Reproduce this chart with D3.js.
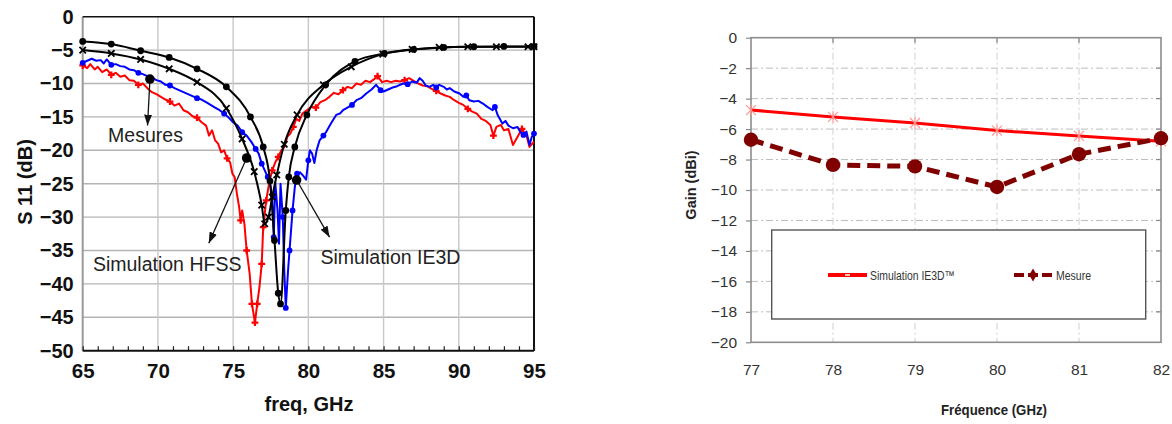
<!DOCTYPE html>
<html><head><meta charset="utf-8">
<script src="https://cdn.jsdelivr.net/npm/d3@7"></script>
<style>body{margin:0;background:#fff}svg{display:block}</style>
</head><body>
<script>
// ================= DATA =================
// Left chart: S11 (dB) vs freq (GHz)
const leftXTicks = [65,70,75,80,85,90,95];
const leftYTicks = [0,-5,-10,-15,-20,-25,-30,-35,-40,-45,-50];
const measRed = [[65.0,-7.3],[65.3,-7.7],[65.5,-7.1],[65.8,-7.9],[66.0,-7.5],[66.3,-8.3],[66.6,-7.9],[66.9,-8.7],[67.2,-8.4],[67.5,-9.0],[67.8,-8.8],[68.1,-9.5],[68.4,-9.6],[68.7,-10.2],[69.0,-10.0],[69.3,-10.7],[69.6,-11.3],[69.9,-11.6],[70.2,-12.0],[70.5,-12.4],[70.8,-12.7],[71.1,-13.3],[71.4,-13.0],[71.7,-14.0],[72.0,-14.3],[72.3,-14.9],[72.6,-15.1],[72.9,-15.8],[73.2,-16.3],[73.4,-17.8],[73.6,-17.0],[73.8,-18.5],[74.0,-19.0],[74.2,-20.3],[74.4,-20.0],[74.6,-21.2],[74.8,-21.8],[74.95,-23.5],[75.1,-24.0],[75.25,-26.5],[75.4,-28.5],[75.5,-30.5],[75.6,-29.0],[75.75,-31.0],[75.9,-35.0],[76.1,-38.5],[76.25,-43.0],[76.45,-45.8],[76.6,-43.0],[76.75,-40.5],[76.9,-37.0],[77.0,-31.5],[77.2,-27.5],[77.4,-24.8],[77.6,-23.0],[77.8,-21.8],[78.0,-21.0],[78.2,-20.0],[78.4,-19.5],[78.6,-18.0],[78.8,-17.5],[79.0,-16.5],[79.2,-15.3],[79.4,-15.6],[79.6,-14.5],[79.9,-14.0],[80.2,-13.5],[80.5,-13.6],[80.8,-12.8],[81.1,-12.5],[81.4,-12.0],[81.7,-11.4],[82.0,-11.6],[82.3,-11.0],[82.6,-10.5],[82.9,-10.7],[83.2,-10.0],[83.5,-10.2],[83.8,-9.6],[84.1,-9.8],[84.4,-9.3],[84.6,-8.9],[84.9,-9.8],[85.2,-9.6],[85.5,-9.8],[85.8,-9.6],[86.1,-9.7],[86.4,-9.5],[86.7,-9.2],[87.0,-9.6],[87.3,-10.0],[87.6,-10.3],[87.9,-10.4],[88.2,-10.8],[88.5,-11.1],[88.8,-11.5],[89.1,-11.8],[89.4,-12.0],[89.7,-12.5],[90.0,-12.9],[90.3,-13.2],[90.6,-13.8],[90.9,-14.2],[91.2,-14.5],[91.5,-15.3],[91.8,-15.6],[92.1,-16.2],[92.3,-17.8],[92.5,-16.5],[92.8,-16.2],[93.0,-17.0],[93.3,-16.8],[93.6,-19.2],[93.9,-18.0],[94.2,-16.8],[94.5,-17.8],[94.7,-19.5],[95.0,-18.7]];
const measBlue = [[65.0,-6.9],[65.3,-6.6],[65.6,-6.3],[65.9,-6.6],[66.2,-6.5],[66.4,-7.0],[66.6,-6.4],[66.9,-7.2],[67.2,-7.1],[67.5,-7.4],[67.8,-7.5],[68.1,-7.9],[68.4,-8.0],[68.7,-8.4],[69.0,-8.6],[69.3,-8.9],[69.6,-9.1],[69.9,-9.5],[70.2,-9.7],[70.5,-10.2],[70.8,-10.3],[71.1,-10.7],[71.4,-11.0],[71.7,-11.3],[72.0,-11.6],[72.3,-11.9],[72.6,-12.2],[72.9,-12.4],[73.2,-12.8],[73.5,-13.2],[73.8,-13.6],[74.1,-14.0],[74.4,-14.5],[74.7,-15.1],[75.0,-15.8],[75.3,-16.3],[75.6,-17.3],[75.9,-17.8],[76.2,-18.7],[76.5,-19.8],[76.7,-20.5],[76.9,-22.0],[77.1,-23.0],[77.3,-24.0],[77.5,-25.5],[77.6,-27.5],[77.7,-33.0],[77.8,-24.8],[77.95,-29.0],[78.05,-34.0],[78.15,-25.0],[78.3,-30.0],[78.4,-38.0],[78.5,-43.6],[78.65,-38.0],[78.75,-35.0],[78.95,-29.0],[79.1,-25.5],[79.25,-23.5],[79.45,-23.3],[79.65,-23.8],[79.85,-24.4],[80.0,-21.5],[80.1,-20.0],[80.25,-20.5],[80.4,-21.9],[80.55,-20.0],[80.75,-18.5],[81.0,-17.8],[81.2,-17.2],[81.5,-16.0],[81.85,-14.7],[82.1,-14.5],[82.3,-14.0],[82.6,-13.6],[82.9,-13.2],[83.2,-12.5],[83.5,-12.2],[83.85,-11.5],[84.2,-10.9],[84.5,-10.2],[84.8,-11.0],[85.0,-11.2],[85.3,-10.9],[85.6,-10.6],[85.9,-10.4],[86.3,-10.0],[86.6,-10.1],[86.9,-9.7],[87.2,-9.9],[87.4,-9.2],[87.6,-9.6],[87.8,-10.3],[88.05,-10.5],[88.3,-10.2],[88.5,-10.6],[88.7,-10.2],[89.0,-10.5],[89.2,-10.9],[89.4,-10.7],[89.7,-11.2],[90.05,-11.5],[90.3,-12.0],[90.5,-11.8],[90.7,-12.5],[91.0,-12.7],[91.3,-12.6],[91.6,-13.0],[91.9,-13.5],[92.25,-14.0],[92.4,-13.5],[92.6,-14.8],[92.9,-16.0],[93.1,-15.6],[93.3,-16.3],[93.6,-16.7],[93.9,-16.5],[94.1,-17.3],[94.3,-17.7],[94.5,-17.2],[94.7,-19.2],[94.85,-18.0],[95.0,-17.5]];
const simCross = [[65.0,-5.0],[66.9,-5.5],[68.85,-6.4],[70.75,-7.8],[72.6,-9.8],[74.55,-13.7],[75.6,-18.3],[76.4,-23.2],[76.9,-28.2],[77.1,-31.0],[77.35,-30.0],[77.6,-27.0],[77.9,-23.7],[78.4,-19.1],[79.25,-14.7],[81.0,-10.2],[82.85,-7.5],[84.95,-5.6],[86.9,-4.9],[88.7,-4.6],[90.6,-4.5],[92.5,-4.5],[94.6,-4.5],[95.0,-4.5]];
const simDot = [[65.0,-3.7],[66.9,-4.1],[68.85,-5.1],[70.75,-6.1],[72.6,-7.8],[74.55,-10.5],[76.15,-15.0],[77.0,-19.5],[77.45,-24.6],[77.75,-33.5],[78.0,-41.4],[78.15,-43.0],[78.5,-29.0],[78.7,-24.0],[79.1,-19.5],[79.9,-14.7],[81.15,-10.2],[83.1,-6.7],[85.05,-5.5],[87.0,-4.9],[89.0,-4.6],[91.0,-4.5],[93.0,-4.45],[95.0,-4.45]];
const redMarkerFreqs = [65,66.9,68.7,70.8,72.6,74.6,75.5,75.9,76.25,76.45,76.6,76.9,77.0,77.2,77.6,78.0,79.0,80.5,82.3,84.6,86.4,88.5,90.6,92.3,94.2];
const blueMarkerFreqs = [65,66.9,68.7,70.8,72.6,74.4,75.6,76.5,76.9,77.3,77.7,78.3,78.5,78.75,78.95,79.25,80.0,81.0,82.9,84.8,86.6,88.5,90.5,92.4,94.3,95.0];

// Right chart: Gain (dBi) vs Fréquence (GHz)
const rightXTicks = [77,78,79,80,81,82];
const rightYTicks = [0,-2,-4,-6,-8,-10,-12,-14,-16,-18,-20];
const gainFreq = [77,78,79,80,81,82];
const gainIE3D = [-4.75,-5.2,-5.6,-6.1,-6.45,-6.8];
const gainMesure = [-6.7,-8.35,-8.45,-9.8,-7.65,-6.6];

// ================= DRAW =================
const W = 1172, H = 424;
const FONT = "'Liberation Sans', Arial, Helvetica, sans-serif";
const svg = d3.select("body").append("svg").attr("width", W).attr("height", H)
  .attr("font-family", FONT);

const defs = svg.append("defs");
defs.append("marker").attr("id","arrow").attr("markerUnits","userSpaceOnUse")
  .attr("markerWidth",11).attr("markerHeight",8).attr("refX",11).attr("refY",4)
  .attr("orient","auto")
  .append("path").attr("d","M0,0L11,4L0,8Z").attr("fill","#111");

// ---------- LEFT CHART ----------
const xL = d3.scaleLinear().domain([65,95]).range([82.7,534]);
const yL = d3.scaleLinear().domain([-50,0]).range([350.7,16.7]);
const gL = svg.append("g");

// grid
gL.selectAll("line.hg").data(leftYTicks.filter(v => v < 0 && v > -50)).join("line")
  .attr("x1", xL(65)).attr("x2", xL(95)).attr("y1", d => yL(d)).attr("y2", d => yL(d))
  .attr("stroke", "#b4b4b4").attr("stroke-width", 1.4);
gL.selectAll("line.vg").data(leftXTicks.filter(v => v > 65 && v < 95)).join("line")
  .attr("x1", d => xL(d)).attr("x2", d => xL(d)).attr("y1", yL(0)).attr("y2", yL(-50))
  .attr("stroke", "#c8c8c8").attr("stroke-width", 1.4);
// left axis line (gray)
gL.append("line").attr("x1", xL(65)).attr("x2", xL(65)).attr("y1", yL(0)).attr("y2", yL(-50))
  .attr("stroke", "#9a9a9a").attr("stroke-width", 2);
// top & right frame
gL.append("line").attr("x1", xL(65)).attr("x2", xL(95)).attr("y1", yL(0)).attr("y2", yL(0))
  .attr("stroke", "#111").attr("stroke-width", 1.5);
gL.append("line").attr("x1", xL(95)).attr("x2", xL(95)).attr("y1", yL(0)).attr("y2", yL(-50))
  .attr("stroke", "#111").attr("stroke-width", 2);
// minor ticks on bottom axis
const gMinor = gL.append("g").attr("transform", `translate(0,${yL(-50)})`)
  .call(d3.axisBottom(xL).tickValues(d3.range(65, 96, 1)).tickSize(-4.5).tickFormat(""));
gMinor.select(".domain").remove();
gMinor.selectAll("line").attr("stroke", "#222").attr("stroke-width", 1.2);
// bottom axis line
gL.append("line").attr("x1", xL(65)).attr("x2", xL(95)).attr("y1", yL(-50)).attr("y2", yL(-50))
  .attr("stroke", "#111").attr("stroke-width", 2);

// tick labels via axes
const gYL = gL.append("g").attr("transform", `translate(${xL(65)},0)`)
  .call(d3.axisLeft(yL).tickValues(leftYTicks).tickSize(0).tickPadding(9));
gYL.select(".domain").remove();
gYL.attr("font-size", 20).attr("font-family", FONT).attr("font-weight", "bold");
gYL.selectAll("text").attr("fill", "#111");

const gXL = gL.append("g").attr("transform", `translate(0,${yL(-50)})`)
  .call(d3.axisBottom(xL).tickValues(leftXTicks).tickSize(0).tickPadding(13));
gXL.select(".domain").remove();
gXL.attr("font-size", 20.5).attr("font-family", FONT).attr("font-weight", "bold");
gXL.selectAll("text").attr("fill", "#111");

// axis titles
gL.append("text").attr("x", 309).attr("y", 411).attr("text-anchor", "middle")
  .attr("font-size", 20).attr("font-weight", "bold").attr("fill", "#111").text("freq, GHz");
gL.append("text").attr("transform", "translate(32,182) rotate(-90)").attr("text-anchor", "middle")
  .attr("font-size", 20).attr("font-weight", "bold").attr("fill", "#111").text("S 11 (dB)");

// curves
const lineL = d3.line().x(d => xL(d[0])).y(d => yL(d[1]));
const lineSmooth = d3.line().x(d => xL(d[0])).y(d => yL(d[1])).curve(d3.curveMonotoneX);
const nearest = (arr, f) => arr.reduce((a, b) => Math.abs(b[0] - f) < Math.abs(a[0] - f) ? b : a);

gL.append("path").datum(measRed).attr("d", lineL).attr("fill", "none")
  .attr("stroke", "#ff0000").attr("stroke-width", 2).attr("stroke-linejoin", "round");
gL.selectAll("path.rm").data(redMarkerFreqs.map(f => nearest(measRed, f))).join("path")
  .attr("transform", d => `translate(${xL(d[0])},${yL(d[1])})`)
  .attr("d", d3.symbol().type(d3.symbolCross).size(26)).attr("fill", "#ff0000");

gL.append("path").datum(measBlue).attr("d", lineL).attr("fill", "none")
  .attr("stroke", "#0000ff").attr("stroke-width", 2).attr("stroke-linejoin", "round");
gL.selectAll("circle.bm").data(blueMarkerFreqs.map(f => nearest(measBlue, f))).join("circle")
  .attr("cx", d => xL(d[0])).attr("cy", d => yL(d[1])).attr("r", 2.9).attr("fill", "#0000ff");

gL.append("path").datum(simCross).attr("d", lineSmooth).attr("fill", "none")
  .attr("stroke", "#000").attr("stroke-width", 2);
gL.selectAll("path.xm").data(simCross).join("path")
  .attr("transform", d => `translate(${xL(d[0])},${yL(d[1])})`)
  .attr("d", "M-3.2,-3.2L3.2,3.2M-3.2,3.2L3.2,-3.2").attr("stroke", "#000").attr("stroke-width", 1.8);

gL.append("path").datum(simDot).attr("d", lineSmooth).attr("fill", "none")
  .attr("stroke", "#000").attr("stroke-width", 2);
gL.selectAll("circle.dm").data(simDot).join("circle")
  .attr("cx", d => xL(d[0])).attr("cy", d => yL(d[1])).attr("r", 3.4).attr("fill", "#000");

// annotations (data coordinates)
const notes = [
  {dot:[69.47,-9.33], tip:[69.31,-16.3], text:"Mesures", at:[66.69,-18.76]},
  {dot:[75.9,-21.15], tip:[73.38,-33.9], text:"Simulation HFSS", at:[65.68,-38.07]},
  {dot:[79.22,-24.45], tip:[81.41,-33.0], text:"Simulation IE3D", at:[80.81,-37.02]}
];
const gN = gL.append("g");
notes.forEach(n => {
  gN.append("line").attr("x1", xL(n.dot[0])).attr("y1", yL(n.dot[1]))
    .attr("x2", xL(n.tip[0])).attr("y2", yL(n.tip[1]))
    .attr("stroke", "#111").attr("stroke-width", 1.3).attr("marker-end", "url(#arrow)");
  gN.append("circle").attr("cx", xL(n.dot[0])).attr("cy", yL(n.dot[1])).attr("r", 4.8).attr("fill", "#000");
  gN.append("text").attr("x", xL(n.at[0])).attr("y", yL(n.at[1])).attr("font-size", 19.5)
    .attr("fill", "#222").text(n.text);
});

// ---------- RIGHT CHART ----------
const xR = d3.scaleLinear().domain([77,82]).range([751,1161]);
const yR = d3.scaleLinear().domain([-20,0]).range([342.3,37.7]);
const gR = svg.append("g");

gR.selectAll("line.hg").data(rightYTicks.filter(v => v < 0 && v > -20)).join("line")
  .attr("x1", xR(77)).attr("x2", xR(82)).attr("y1", d => yR(d)).attr("y2", d => yR(d))
  .attr("stroke", "#bdbdbd").attr("stroke-width", 1).attr("stroke-dasharray", "7,3,2,3");
gR.selectAll("line.vg").data(rightXTicks.filter(v => v > 77 && v < 82)).join("line")
  .attr("x1", d => xR(d)).attr("x2", d => xR(d)).attr("y1", yR(0)).attr("y2", yR(-20))
  .attr("stroke", "#cfcfcf").attr("stroke-width", 1).attr("stroke-dasharray", "7,3,2,3");
// inner ticks top and right
gR.selectAll("line.tt").data(rightXTicks.filter(v => v > 77 && v < 82)).join("line")
  .attr("x1", d => xR(d)).attr("x2", d => xR(d)).attr("y1", yR(0)).attr("y2", yR(0) + 5)
  .attr("stroke", "#888").attr("stroke-width", 1.2);
gR.selectAll("line.rt").data(rightYTicks.filter(v => v < 0 && v > -20)).join("line")
  .attr("x1", xR(82) - 5).attr("x2", xR(82)).attr("y1", d => yR(d)).attr("y2", d => yR(d))
  .attr("stroke", "#888").attr("stroke-width", 1.2);
// frame
gR.append("rect").attr("x", xR(77)).attr("y", yR(0)).attr("width", xR(82) - xR(77))
  .attr("height", yR(-20) - yR(0)).attr("fill", "none").attr("stroke", "#8c8c8c").attr("stroke-width", 1.6);

const gYR = gR.append("g").attr("transform", `translate(${xR(77)},0)`)
  .call(d3.axisLeft(yR).tickValues(rightYTicks).tickSize(5).tickPadding(9).tickFormat(d3.format("d")));
gYR.select(".domain").remove();
gYR.selectAll("line").attr("stroke", "#888").attr("stroke-width", 1.2);
gYR.attr("font-size", 15.5).attr("font-family", FONT);
gYR.selectAll("text").attr("fill", "#333");

const gXR = gR.append("g").attr("transform", `translate(0,${yR(-20)})`)
  .call(d3.axisBottom(xR).tickValues(rightXTicks).tickSize(0).tickPadding(22).tickFormat(d3.format("d")));
gXR.select(".domain").remove();
gXR.attr("font-size", 15.5).attr("font-family", FONT);
gXR.selectAll("text").attr("fill", "#333");

gR.append("text").attr("transform", "translate(696,185) rotate(-90)").attr("text-anchor", "middle")
  .attr("font-size", 14.5).attr("font-weight", "bold").attr("fill", "#222").text("Gain (dBi)");
gR.append("text").attr("x", 994).attr("y", 415).attr("text-anchor", "middle")
  .attr("font-size", 15).attr("font-weight", "bold").attr("fill", "#222")
  .attr("textLength", 106).attr("lengthAdjust", "spacingAndGlyphs").text("Fréquence (GHz)");

// legend box
const lg = gR.append("g");
lg.append("rect").attr("x", 771.7).attr("y", 230).attr("width", 374).attr("height", 89)
  .attr("fill", "#fff").attr("stroke", "#555").attr("stroke-width", 1.4);

// series
const sIE3D = gainFreq.map((f, i) => [f, gainIE3D[i]]);
const sMes = gainFreq.map((f, i) => [f, gainMesure[i]]);
const lineR = d3.line().x(d => xR(d[0])).y(d => yR(d[1]));
gR.append("path").datum(sIE3D).attr("d", lineR).attr("fill", "none")
  .attr("stroke", "#ff0000").attr("stroke-width", 3);
gR.selectAll("path.xm").data(sIE3D).join("path")
  .attr("transform", d => `translate(${xR(d[0])},${yR(d[1])})`)
  .attr("d", "M-5,-5L5,5M-5,5L5,-5M0,-6L0,6").attr("stroke", "#ff9090").attr("stroke-width", 1.1);
gR.append("path").datum(sMes).attr("d", lineR).attr("fill", "none")
  .attr("stroke", "#800000").attr("stroke-width", 5).attr("stroke-dasharray", "13,7");
gR.selectAll("circle.mm").data(sMes).join("circle")
  .attr("cx", d => xR(d[0])).attr("cy", d => yR(d[1])).attr("r", 7.2).attr("fill", "#800000");

// legend items
lg.append("line").attr("x1", 828).attr("x2", 867).attr("y1", 275).attr("y2", 275)
  .attr("stroke", "#ff0000").attr("stroke-width", 4);
lg.append("line").attr("x1", 845).attr("x2", 850).attr("y1", 275).attr("y2", 275)
  .attr("stroke", "#ffc0c0").attr("stroke-width", 2);
lg.append("text").attr("x", 870).attr("y", 279.5).attr("font-size", 12.5).attr("fill", "#333")
  .attr("textLength", 85).attr("lengthAdjust", "spacingAndGlyphs").text("Simulation IE3D™");
lg.append("line").attr("x1", 1014).attr("x2", 1052).attr("y1", 275).attr("y2", 275)
  .attr("stroke", "#800000").attr("stroke-width", 4).attr("stroke-dasharray", "10,4");
lg.append("path").attr("transform", "translate(1033,275)")
  .attr("d", d3.symbol().type(d3.symbolDiamond).size(50)).attr("fill", "#800000");
lg.append("text").attr("x", 1056).attr("y", 279.5).attr("font-size", 12.5).attr("fill", "#333")
  .attr("textLength", 35).attr("lengthAdjust", "spacingAndGlyphs").text("Mesure");
</script>
</body></html>
